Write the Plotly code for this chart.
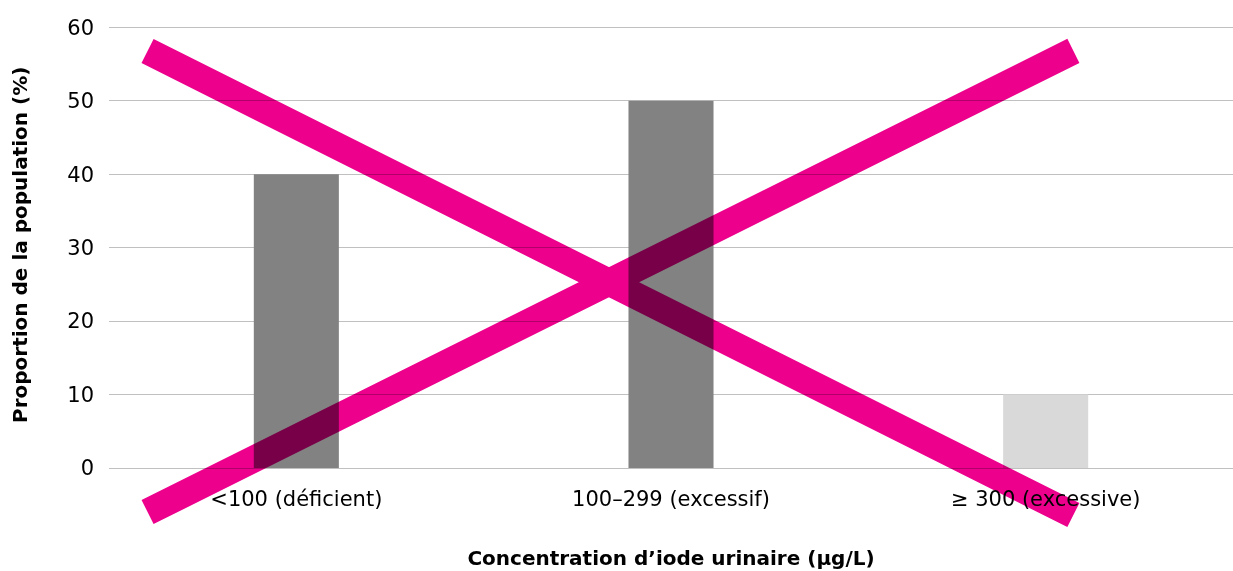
import plotly.graph_objects as go

categories = ["<100 (déficient)", "100–299 (excessif)", "≥ 300 (excessive)"]
values = [40, 50, 10]
bar_colors = ["#828282", "#828282", "#d9d9d9"]
y_ticks = [0, 10, 20, 30, 40, 50, 60]
x_title = "Concentration d’iode urinaire (µg/L)"
y_title = "Proportion de la population (%)"

# decorative cross overlay (paper coordinates): two strokes in one path
cross_a = (0.0343, 0.9309, 0.858, -0.1049)
cross_b = (0.0343, -0.0982, 0.858, 0.9309)
MAGENTA = "#EC008C"

fig = go.Figure()
fig.add_trace(go.Bar(x=categories, y=values, marker=dict(color=bar_colors, line=dict(width=0)),
                     width=0.227, hoverinfo="skip"))

path = "M {} {} L {} {} M {} {} L {} {}".format(*cross_a, *cross_b)
fig.add_shape(type="path", xref="paper", yref="paper", path=path,
              line=dict(color=MAGENTA, width=27), layer="above")

font_family = "DejaVu Sans"
fig.update_layout(
    width=1233, height=571,
    margin=dict(l=109, r=0, t=20, b=103),
    plot_bgcolor="white", paper_bgcolor="white",
    showlegend=False,
    font=dict(family=font_family, color="black", size=20),
)
fig.update_xaxes(
    showgrid=False, showline=False, ticks="",
    tickfont=dict(size=21, family=font_family),
    ticklabelstandoff=16,
    title=dict(text=f"<b>{x_title}</b>", font=dict(size=20, family=font_family), standoff=40),
)
fig.update_yaxes(
    range=[0, 61], tickvals=y_ticks, showgrid=True, gridcolor="#c0c0c0", gridwidth=1.3,
    zeroline=True, zerolinecolor="#c0c0c0", zerolinewidth=1.3, showline=False, ticks="",
    tickfont=dict(size=21, family=font_family), ticklabelstandoff=14,
)
fig.add_annotation(text=f"<b>{y_title}</b>", xref="paper", yref="paper", x=0, y=0.5,
                   xanchor="center", yanchor="middle", xshift=-89, yshift=-1, textangle=-90,
                   showarrow=False, font=dict(size=20, family=font_family, color="black"))

post = """
var st = document.createElement('style');
st.innerHTML = 'body { margin: 0 !important; } .shapelayer path { mix-blend-mode: multiply; }';
document.head.appendChild(st);
"""
fig.write_html("out.html", post_script=post, config={"displayModeBar": False})
